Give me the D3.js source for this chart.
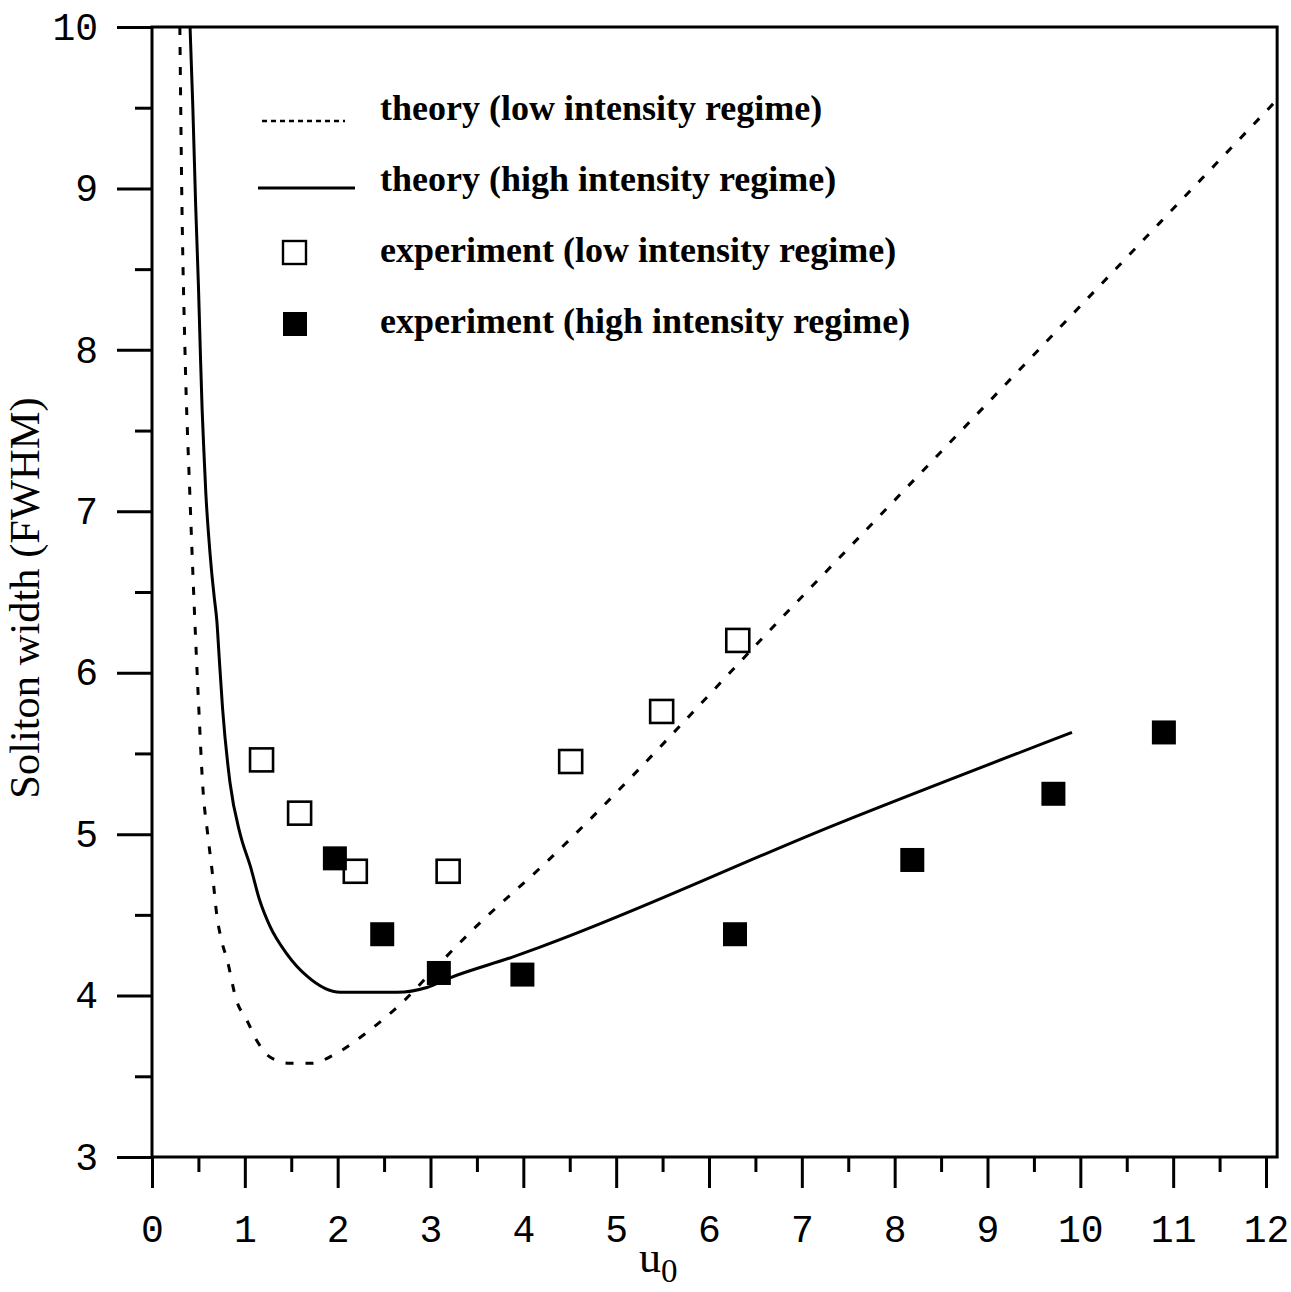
<!DOCTYPE html>
<html>
<head>
<meta charset="utf-8">
<script src="https://cdn.jsdelivr.net/npm/d3@7"></script>
<style>
  html, body { margin: 0; padding: 0; background: #fff; }
  svg { display: block; }
  .tick-label { font-family: 'Liberation Mono', 'DejaVu Sans Mono', monospace; font-size: 38px; fill: #000; }
  .legend-text { font-family: 'Liberation Serif', 'Times New Roman', serif; font-weight: bold; font-size: 36px; fill: #000; }
  .axis-title { font-family: 'Liberation Serif', 'Times New Roman', serif; fill: #000; }
</style>
</head>
<body>
<div id="chart"></div>
<script>
// theory curves
const lowTheoryU = [0.30, 0.32, 0.355, 0.41, 0.50, 0.55, 0.60, 0.65, 0.70, 0.75, 0.81, 0.91, 1.02, 1.13, 1.27, 1.49, 1.72, 1.95, 2.31, 2.70, 3.10, 3.46, 4.18, 6.95, 12.12];
const lowTheoryW = [10, 9, 8, 7.07, 5.83, 5.27, 5.0, 4.76, 4.49, 4.34, 4.22, 3.97, 3.85, 3.72, 3.62, 3.58, 3.58, 3.63, 3.77, 3.96, 4.2, 4.41, 4.79, 6.44, 9.55];

const highTheoryU = [0.41, 0.44, 0.47, 0.50, 0.52, 0.54, 0.56, 0.58, 0.61, 0.64, 0.67, 0.70, 0.72, 0.76, 0.84, 0.95, 1.06, 1.16, 1.27, 1.45, 1.67, 2.03, 2.64, 2.96, 3.21, 3.89, 4.18, 7.41, 9.91];
const highTheoryW = [10, 9.5, 8.9, 8.4, 8.0, 7.63, 7.36, 7.11, 6.85, 6.64, 6.47, 6.31, 6.13, 5.78, 5.32, 5.0, 4.8, 4.59, 4.43, 4.26, 4.12, 4.02, 4.02, 4.05, 4.11, 4.24, 4.30, 5.07, 5.63];

// experimental points
const lowExpU = [1.18, 1.59, 2.19, 3.19, 4.51, 5.49, 6.31];
const lowExpW = [5.46, 5.13, 4.77, 4.77, 5.45, 5.76, 6.20];
const highExpU = [1.97, 2.48, 3.09, 3.99, 6.28, 8.19, 9.71, 10.90];
const highExpW = [4.85, 4.38, 4.14, 4.13, 4.38, 4.84, 5.25, 5.63];

const xMajor = d3.range(0, 13);
const xMinor = d3.range(0.5, 12, 1);
const yMajor = d3.range(3, 11);
const yMinor = d3.range(3.5, 10, 1);
const xFrameMax = 12.12;

const legendRows = [
  { kind: 'dashed', label: 'theory (low intensity regime)' },
  { kind: 'solid', label: 'theory (high intensity regime)' },
  { kind: 'open', label: 'experiment (low intensity regime)' },
  { kind: 'filled', label: 'experiment (high intensity regime)' },
];

const width = 1291;
const height = 1292;

const x = d3.scaleLinear().domain([0, 12]).range([152, 1266]);
const y = d3.scaleLinear().domain([3, 10]).range([1157, 27]);

const svg = d3.select('#chart')
  .append('svg')
  .attr('width', width)
  .attr('height', height)
  .attr('viewBox', [0, 0, width, height].join(' '));

svg.append('rect').attr('width', width).attr('height', height).attr('fill', '#fff');

function styleAxis(g) {
  g.select('.domain').remove();
  g.selectAll('.tick line').attr('stroke', '#000').attr('stroke-width', 3);
  g.selectAll('.tick text').attr('class', 'tick-label').attr('fill', '#000');
}

// y axis: major with labels, minor without
svg.append('g')
  .attr('transform', `translate(${x(0)},0)`)
  .call(d3.axisLeft(y).tickValues(yMajor).tickSize(35).tickPadding(19).tickFormat(d3.format('d')))
  .call(styleAxis);
svg.append('g')
  .attr('transform', `translate(${x(0)},0)`)
  .call(d3.axisLeft(y).tickValues(yMinor).tickSize(17).tickFormat(''))
  .call(styleAxis);

// x axis
svg.append('g')
  .attr('transform', `translate(0,${y(3)})`)
  .call(d3.axisBottom(x).tickValues(xMajor).tickSize(31).tickPadding(27).tickFormat(d3.format('d')))
  .call(styleAxis);
svg.append('g')
  .attr('transform', `translate(0,${y(3)})`)
  .call(d3.axisBottom(x).tickValues(xMinor).tickSize(15).tickFormat(''))
  .call(styleAxis);

// frame
svg.append('path')
  .attr('d', `M${x(0)},${y(3)} L${x(0)},${y(10)} L${x(xFrameMax)},${y(10)} L${x(xFrameMax)},${y(3)} Z`)
  .attr('fill', 'none')
  .attr('stroke', '#000')
  .attr('stroke-width', 3);

svg.append('defs').append('clipPath').attr('id', 'plot-clip')
  .append('rect')
  .attr('x', x(0))
  .attr('y', y(10))
  .attr('width', x(xFrameMax) - x(0))
  .attr('height', y(3) - y(10));

const line = d3.line()
  .x((d) => x(d[0]))
  .y((d) => y(d[1]))
  .curve(d3.curveMonotoneX);

const plot = svg.append('g').attr('clip-path', 'url(#plot-clip)');

plot.append('path')
  .datum(d3.zip(lowTheoryU, lowTheoryW))
  .attr('d', line)
  .attr('fill', 'none')
  .attr('stroke', '#000')
  .attr('stroke-width', 3)
  .attr('stroke-dasharray', '8,12');

plot.append('path')
  .datum(d3.zip(highTheoryU, highTheoryW))
  .attr('d', line)
  .attr('fill', 'none')
  .attr('stroke', '#000')
  .attr('stroke-width', 3);

const openSize = 23;
const filledSize = 24;

plot.selectAll('rect.open-pt')
  .data(d3.zip(lowExpU, lowExpW))
  .join('rect')
  .attr('class', 'open-pt')
  .attr('x', (d) => x(d[0]) - openSize / 2)
  .attr('y', (d) => y(d[1]) - openSize / 2)
  .attr('width', openSize)
  .attr('height', openSize)
  .attr('fill', '#fff')
  .attr('stroke', '#000')
  .attr('stroke-width', 2.6);

plot.selectAll('rect.filled-pt')
  .data(d3.zip(highExpU, highExpW))
  .join('rect')
  .attr('class', 'filled-pt')
  .attr('x', (d) => x(d[0]) - filledSize / 2)
  .attr('y', (d) => y(d[1]) - filledSize / 2)
  .attr('width', filledSize)
  .attr('height', filledSize)
  .attr('fill', '#000');

// legend
const legend = svg.append('g');
legendRows.forEach((row, i) => {
  const cy = 110 + i * 71;
  if (row.kind === 'dashed') {
    legend.append('line')
      .attr('x1', 262).attr('x2', 345).attr('y1', cy + 11).attr('y2', cy + 11)
      .attr('stroke', '#000').attr('stroke-width', 2.5).attr('stroke-dasharray', '5,4');
  } else if (row.kind === 'solid') {
    legend.append('line')
      .attr('x1', 258).attr('x2', 355).attr('y1', cy + 7).attr('y2', cy + 7)
      .attr('stroke', '#000').attr('stroke-width', 3);
  } else if (row.kind === 'open') {
    legend.append('rect')
      .attr('x', 283).attr('y', cy - 11).attr('width', 23).attr('height', 23)
      .attr('fill', '#fff').attr('stroke', '#000').attr('stroke-width', 2.4);
  } else {
    legend.append('rect')
      .attr('x', 283).attr('y', cy - 11).attr('width', 24).attr('height', 24)
      .attr('fill', '#000');
  }
  legend.append('text')
    .attr('class', 'legend-text')
    .attr('x', 380)
    .attr('y', cy + 10)
    .text(row.label);
});

// axis titles
svg.append('text')
  .attr('class', 'axis-title')
  .attr('transform', 'translate(39,598) rotate(-90)')
  .attr('text-anchor', 'middle')
  .attr('font-size', 42.5)
  .text('Soliton width (FWHM)');

const xTitle = svg.append('text')
  .attr('class', 'axis-title')
  .attr('x', 639)
  .attr('y', 1272)
  .attr('font-size', 44);
xTitle.append('tspan').text('u');
xTitle.append('tspan').attr('font-size', 33).attr('dy', 10).text('0');
</script>
</body>
</html>
